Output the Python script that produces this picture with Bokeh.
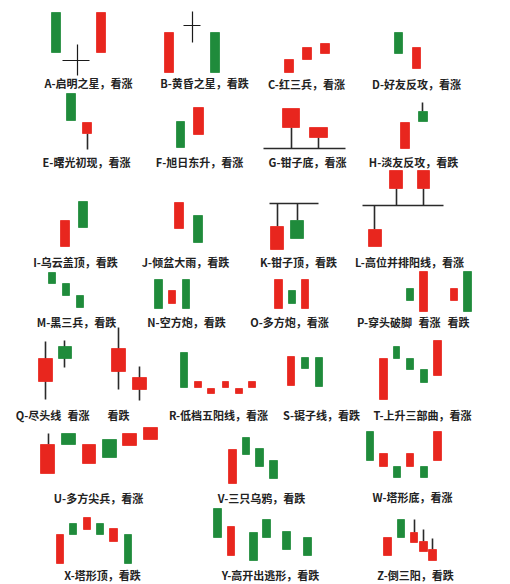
from bokeh.plotting import figure
from bokeh.models import Range1d, ColumnDataSource
from bokeh.embed import file_html
from bokeh.resources import INLINE
from bokeh.core.properties import value

# ---- data: candles per pattern (left, right, top, bottom, kind) ----
A_candles = [(51, 60, 12, 52, "g"), (96, 105, 12, 52, "r")]
B_candles = [(164, 173, 32, 72, "r"), (210, 219, 32, 72, "g")]
C_candles = [(284, 293, 59, 72, "r"), (302, 311, 47, 59, "r"), (320, 329, 43, 53, "r")]
D_candles = [(394, 402, 32, 53, "g"), (412, 420, 47, 68, "r")]
E_candles = [(66, 75, 93, 120, "g"), (82, 91, 122, 133, "r")]
F_candles = [(176, 184, 121, 147, "g"), (193, 203, 107, 134, "r")]
G_candles = [(282, 299, 108, 127, "r"), (309, 327, 127, 137, "r")]
H_candles = [(400, 409, 122, 148, "r"), (418, 427, 111, 121, "g")]
I_candles = [(60, 69, 220, 246, "r"), (78, 87, 201, 227, "g")]
J_candles = [(174, 183, 202, 228, "r"), (193, 202, 215, 242, "g")]
K_candles = [(270, 283, 226, 249, "r"), (290, 303, 220, 238, "g")]
L_candles = [(389, 402, 170, 188, "r"), (417, 429, 170, 188, "r"), (368, 381, 229, 246, "r")]
M_candles = [(48, 55, 272, 283, "g"), (62, 69, 283, 295, "g"), (76, 83, 295, 307, "g")]
N_candles = [(154, 162, 279, 308, "g"), (168, 175, 290, 303, "r"), (182, 189, 279, 308, "g")]
O_candles = [(274, 282, 279, 308, "r"), (288, 295, 290, 303, "g"), (301, 308, 279, 308, "r")]
P_candles = [(406, 413, 288, 300, "g"), (419, 427, 271, 311, "r"),
             (450, 457, 288, 300, "r"), (463, 471, 271, 311, "g")]
Q_candles = [(38, 52, 358, 381, "r"), (58, 71, 346, 358, "g"),
             (111, 125, 348, 371, "r"), (132, 146, 377, 389, "r")]
R_candles = [(180, 187, 352, 387, "g"), (194, 201, 381, 387, "r"), (207, 214, 388, 393, "r"),
             (222, 228, 381, 387, "r"), (235, 242, 388, 393, "r"), (248, 255, 381, 387, "r")]
S_candles = [(287, 294, 356, 385, "r"), (301, 308, 357, 368, "g"), (315, 322, 357, 386, "g")]
T_candles = [(379, 387, 358, 399, "r"), (393, 399, 346, 358, "g"), (406, 413, 358, 369, "g"),
             (420, 427, 369, 382, "g"), (433, 441, 340, 375, "r")]
U_candles = [(40, 54, 444, 473, "r"), (61, 75, 433, 444, "g"), (82, 95, 444, 463, "r"),
             (102, 116, 439, 457, "g"), (122, 136, 433, 445, "r"), (143, 157, 427, 439, "r")]
V_candles = [(228, 236, 449, 483, "r"), (242, 249, 437, 454, "g"),
             (255, 263, 448, 466, "g"), (269, 277, 460, 478, "g")]
W_candles = [(366, 373, 431, 460, "g"), (379, 387, 453, 466, "r"), (393, 400, 466, 477, "g"),
             (406, 413, 453, 466, "r"), (420, 427, 466, 477, "g"), (433, 441, 431, 460, "r")]
X_candles = [(56, 63, 534, 563, "r"), (69, 76, 523, 534, "g"), (83, 90, 517, 529, "r"),
             (96, 103, 523, 534, "g"), (109, 117, 528, 541, "r"), (124, 131, 534, 563, "g")]
Y_candles = [(213, 221, 508, 537, "g"), (227, 234, 526, 555, "r"), (249, 257, 532, 560, "g"),
             (262, 270, 519, 537, "g"), (282, 290, 531, 549, "g"), (303, 311, 537, 555, "g")]
Z_candles = [(383, 391, 537, 555, "r"), (397, 404, 519, 537, "g"), (410, 417, 532, 542, "r"),
             (419, 427, 541, 551, "r"), (428, 436, 549, 560, "r")]

# ---- data: wicks / reference lines (x0, y0, x1, y1) ----
cross_lines = [(62, 60, 89, 60), (77, 44, 77, 75), (183, 25, 200, 25), (192, 11, 192, 42)]
wick_lines = [
    (87, 133, 87, 149),
    (291, 127, 291, 148), (318, 137, 318, 148), (263, 148, 345, 148),
    (422, 102, 422, 111),
    (396, 188, 396, 205), (423, 188, 423, 205), (362, 205, 443, 205), (374, 205, 374, 229),
    (269, 203, 318, 203), (277, 203, 277, 226), (297, 203, 297, 220),
    (45, 341, 45, 399), (64, 340, 64, 367), (118, 327, 118, 389), (139, 366, 139, 400),
    (48, 433, 48, 444),
    (414, 519, 414, 532), (423, 529, 423, 541), (432, 538, 432, 549),
]

# ---- data: labels (x, y, text) ----
labels = [
    (88, 82, "A-启明之星，看涨"), (204, 82, "B-黄昏之星，看跌"),
    (306, 83, "C-红三兵，看涨"), (416, 83, "D-好友反攻，看涨"),
    (86, 161, "E-曙光初现，看涨"), (199, 161, "F-旭日东升，看涨"),
    (307, 161, "G-钳子底，看涨"), (413, 161, "H-淡友反攻，看跌"),
    (75, 261, "I-乌云盖顶，看跌"), (185, 261, "J-倾盆大雨，看跌"),
    (298, 261, "K-钳子顶，看跌"), (409, 261, "L-高位并排阳线，看涨"),
    (76, 321, "M-黑三兵，看跌"), (186, 321, "N-空方炮，看跌"),
    (289, 321, "O-多方炮，看涨"), (384, 321, "P-穿头破脚"),
    (429, 321, "看涨"), (458, 321, "看跌"),
    (38, 414, "Q-尽头线"), (78, 414, "看涨"), (118, 414, "看跌"),
    (218, 414, "R-低档五阳线，看涨"), (321, 414, "S-镊子线，看跌"),
    (422, 414, "T-上升三部曲，看涨"),
    (98, 497, "U-多方尖兵，看涨"), (261, 497, "V-三只乌鸦，看跌"),
    (412, 496, "W-塔形底，看涨"),
    (102, 574, "X-塔形顶，看跌"), (270, 574, "Y-高开出逃形，看跌"),
    (415, 574, "Z-倒三阳，看跌"),
]

COLORS = {"r": "#e8261e", "g": "#1f8b3b"}

all_candles = (A_candles + B_candles + C_candles + D_candles + E_candles + F_candles +
               G_candles + H_candles + I_candles + J_candles + K_candles + L_candles +
               M_candles + N_candles + O_candles + P_candles + Q_candles + R_candles +
               S_candles + T_candles + U_candles + V_candles + W_candles + X_candles +
               Y_candles + Z_candles)

p = figure(width=510, height=584, output_backend="svg", toolbar_location=None,
           x_range=Range1d(0, 510), y_range=Range1d(584, 0), min_border=0)
p.axis.visible = False
p.grid.visible = False
p.outline_line_color = None
p.background_fill_color = "white"
p.border_fill_color = "white"

def seg_src(lines):
    return ColumnDataSource(dict(x0=[l[0] for l in lines], y0=[l[1] for l in lines],
                                 x1=[l[2] for l in lines], y1=[l[3] for l in lines]))

p.segment("x0", "y0", "x1", "y1", source=seg_src(wick_lines), line_color="#2a2a2a", line_width=1.6)
p.segment("x0", "y0", "x1", "y1", source=seg_src(cross_lines), line_color="#1a1a1a", line_width=1.2)

csrc = ColumnDataSource(dict(
    left=[c[0] for c in all_candles], right=[c[1] for c in all_candles],
    top=[c[2] for c in all_candles], bottom=[c[3] for c in all_candles],
    color=[COLORS[c[4]] for c in all_candles]))
p.quad(left="left", right="right", top="top", bottom="bottom", source=csrc,
       fill_color="color", line_color="color", line_width=0.8)

tsrc = ColumnDataSource(dict(x=[l[0] for l in labels], y=[l[1] for l in labels],
                             text=[l[2] for l in labels]))
p.text(x="x", y="y", text="text", source=tsrc, text_align="center", text_baseline="middle",
       text_font=value("Noto Sans CJK SC"), text_font_size="11px", text_font_style="bold",
       text_color="#222222")

open("out.html", "w").write(file_html(p, INLINE))
